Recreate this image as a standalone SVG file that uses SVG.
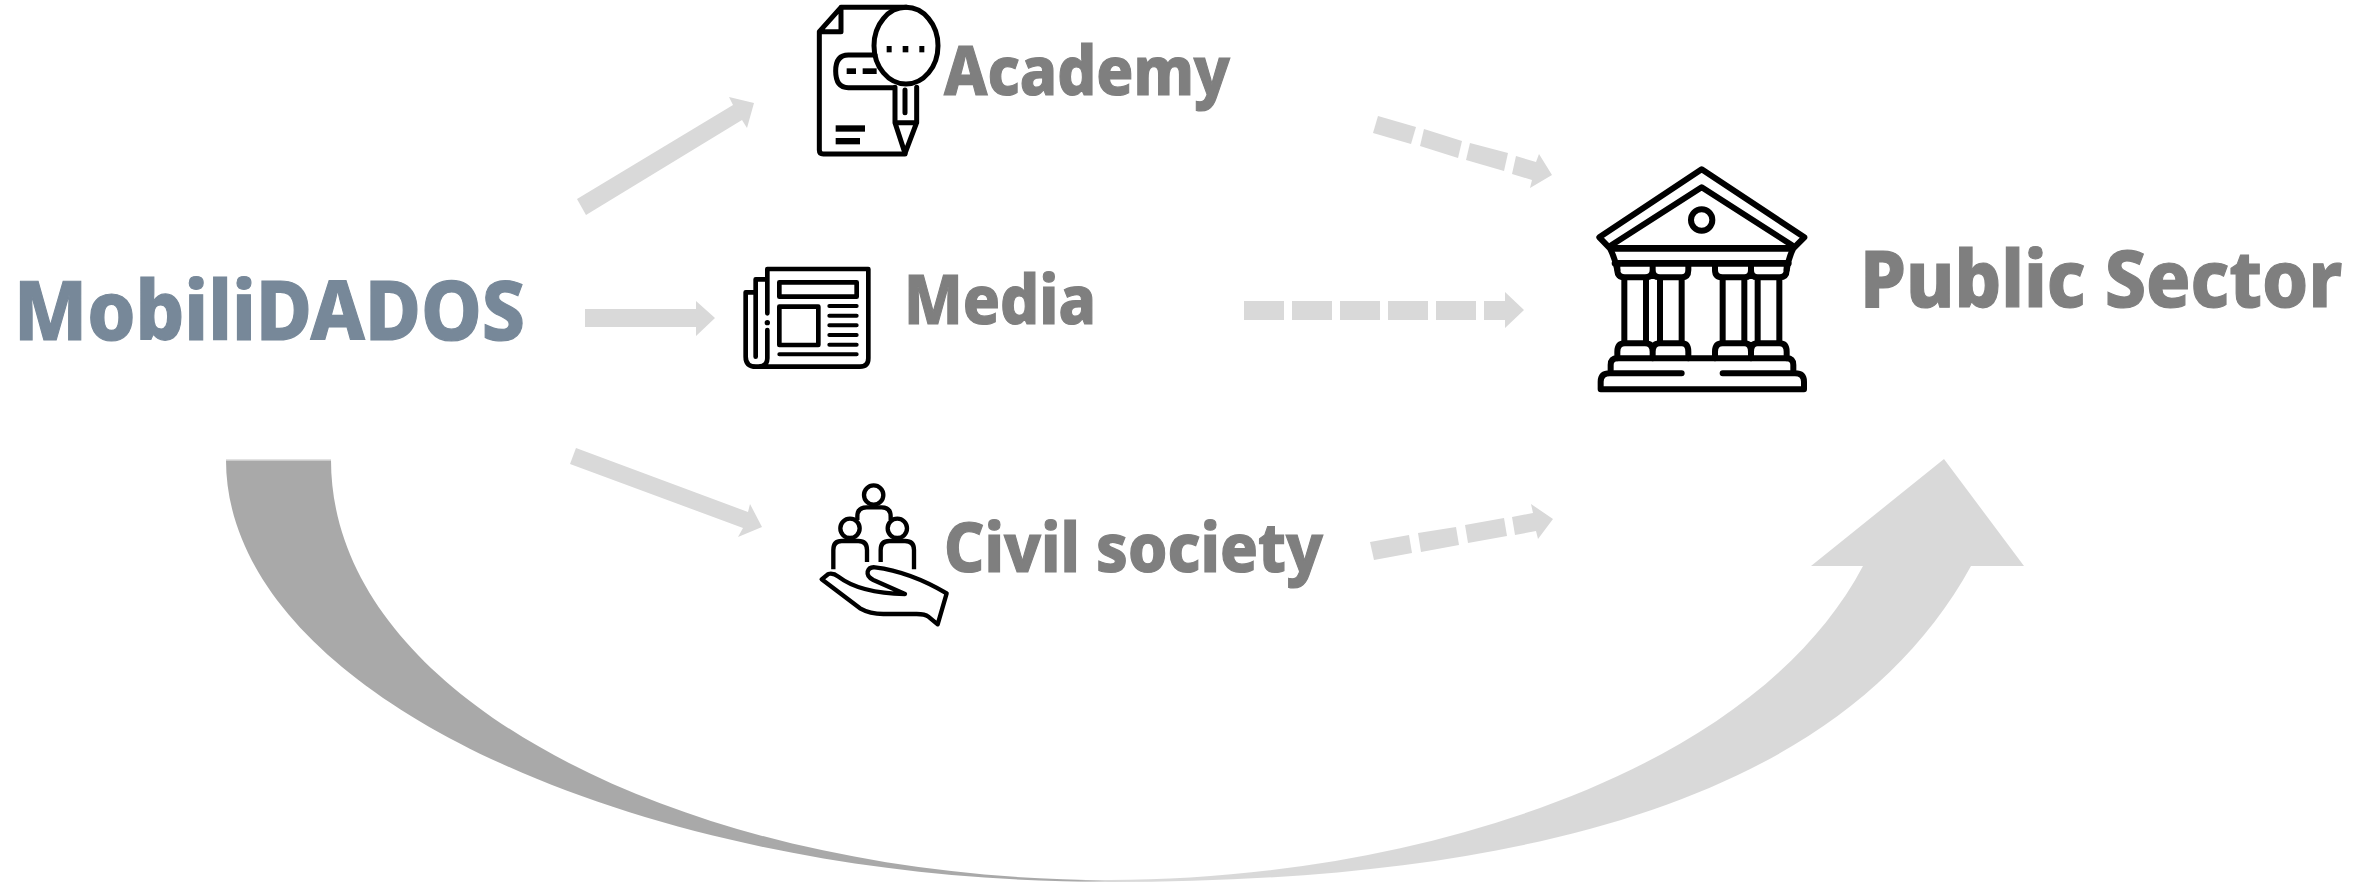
<svg xmlns="http://www.w3.org/2000/svg" width="2374" height="882" viewBox="0 0 2374 882">
<style>
.t{font-family:"Noto Sans","Open Sans","Liberation Sans",sans-serif;font-weight:800;fill:#7f7f7f;stroke:#7f7f7f;stroke-width:1.2}
.m{fill:#778899;stroke:#778899}
.a{fill:#d9d9d9}
.i{fill:none;stroke:#000;stroke-linecap:round;stroke-linejoin:round}
.k{fill:#000}
</style>
<defs>
<linearGradient id="g" gradientUnits="userSpaceOnUse" x1="226" y1="0" x2="1994" y2="0">
<stop offset="0" stop-color="#a9a9a9"/><stop offset="0.482" stop-color="#a9a9a9"/><stop offset="0.497" stop-color="#d9d9d9"/><stop offset="1" stop-color="#d9d9d9"/>
</linearGradient>
</defs>
<rect width="2374" height="882" fill="#fff"/>
<g id="connectors">
<path id="big-arrow" fill="url(#g)" d="M226 460H331C331 705 700 880 1110 880C1400 880 1750 780 1863 566H1811L1944 459L2024 566H1971C1842 801 1519 882 1110 882C640 882 226 695 226 460Z"/>
<path d="M226 460H331" stroke="#d9d9d9" stroke-width="1.5" fill="none"/>
<polygon class="a" points="577,199 733,105 729,97 754,103 747,128 742,120 586,215"/>
<polygon class="a" points="585,309 696,309 696,301 715,318 696,336 696,327 585,327"/>
<polygon class="a" points="576,448 748,512 750,504 762,527 738,537 743,528 570,464"/>
<g id="dashed-academy" class="a">
<polygon points="1378,116 1416,127 1411,144 1373,133"/>
<polygon points="1424,129 1462,141 1458,158 1420,146"/>
<polygon points="1470,143 1508,153 1504,171 1466,160"/>
<polygon points="1516,156 1536,162 1539,154 1552,175 1530,188 1532,180 1512,174"/>
</g>
<g id="dashed-media" class="a">
<rect x="1244" y="301" width="40" height="19"/>
<rect x="1292" y="301" width="40" height="19"/>
<rect x="1340" y="301" width="40" height="19"/>
<rect x="1388" y="301" width="40" height="19"/>
<rect x="1436" y="301" width="40" height="19"/>
<polygon points="1484,301 1505,301 1505,292 1524,310 1505,328 1505,320 1484,320"/>
</g>
<g id="dashed-civil" class="a">
<polygon points="1370,542 1409,535 1412,553 1374,560"/>
<polygon points="1418,533 1456,527 1459,545 1421,552"/>
<polygon points="1465,525 1504,518 1507,536 1468,543"/>
<polygon points="1512,517 1533,513 1531,504 1553,519 1538,539 1536,531 1515,535"/>
</g>
</g>
<g id="mobilidados"><text class="t m" x="14" y="340" font-size="82" textLength="511" lengthAdjust="spacingAndGlyphs">MobiliDADOS</text></g>
<g id="academy">
<g transform="translate(780 0) scale(.33333)">
<g class="i" stroke-width="15">
<path d="M380 22H183L118 95V450Q118 462 130 462H375M118 95H183V22"/>
<ellipse cx="378" cy="137" rx="96" ry="115"/>
<path d="M285 165H205Q167 165 167 213Q167 263 205 263H340"/>
<path d="M345 262V368L375 460L410 368V262M345 368H410M375 270V338"/>
</g>
<rect class="k" x="200" y="205" width="28" height="17"/><rect class="k" x="248" y="205" width="42" height="17"/>
<rect class="k" x="320" y="138" width="15" height="19"/><rect class="k" x="368" y="138" width="17" height="19"/><rect class="k" x="418" y="138" width="15" height="19"/>
<rect class="k" x="167" y="376" width="88" height="19"/><rect class="k" x="167" y="414" width="73" height="19"/>
</g>
<text class="t" x="944" y="95" font-size="67" textLength="286" lengthAdjust="spacingAndGlyphs">Academy</text>
</g>
<g id="media">
<g transform="translate(720 250) scale(.33333)">
<g class="i" stroke-width="14">
<path d="M142 190V57H445V325Q445 350 420 350H108Q77 350 77 320V127H107M142 88H107V320M142 240V325Q142 350 115 350"/>
<rect x="178" y="97" width="232" height="43"/>
<rect x="178" y="170" width="117" height="115"/>
<path stroke-width="12" d="M328 168H410M328 197H410M328 226H410M328 255H410M328 284H410M178 313H410"/>
</g>
<circle class="k" cx="142" cy="218" r="8"/>
</g>
<text class="t" x="904" y="324" font-size="67" textLength="192" lengthAdjust="spacingAndGlyphs">Media</text>
</g>
<g id="civil-society">
<g transform="translate(800 470) scale(.33333)">
<g class="i" stroke-width="13" style="stroke-linecap:butt">
<circle cx="221" cy="75" r="29"/><circle cx="150" cy="175" r="29"/><circle cx="292" cy="175" r="29"/>
<path d="M172 150V140Q172 112 200 112H245Q272 112 272 140V150"/>
<path d="M100 298V240Q100 213 125 213H175Q201 213 201 240V276"/>
<path d="M242 276V240Q242 213 268 213H315Q342 213 342 240V298"/>
<path d="M65 328L85 312Q100 308 115 320Q180 370 315 372L220 330Q200 320 203 305Q207 290 225 292Q330 305 440 370L413 463L385 440Q375 432 350 432H250Q210 432 180 415Z"/>
</g>
</g>
<text class="t" x="944" y="572" font-size="67" textLength="379" lengthAdjust="spacingAndGlyphs">Civil society</text>
</g>
<g id="public-sector">
<g transform="translate(1570 150) scale(.33333)">
<g class="i" stroke-width="18">
<path d="M120 295L88 262L395 58L703 262L670 295Q655 325 650 360M120 295Q135 325 142 360"/>
<path d="M125 285L395 112L665 285"/>
<path stroke-width="20" d="M125 295H665M135 340H655"/>
<circle cx="395" cy="210" r="32"/>
<path d="M142 345V360Q142 382 165 382H225Q248 382 248 360V345M248 360Q248 382 270 382H335Q355 382 355 360V345M435 345V360Q435 382 458 382H523Q543 382 543 360V345M543 360Q543 382 563 382H628Q650 382 650 360V345"/>
<path d="M163 385V575M228 385V575M270 385V575M335 385V575M458 385V575M523 385V575M563 385V575M628 385V575"/>
<path d="M142 625V605Q142 580 165 580H225Q248 580 248 605V625M248 605Q248 580 270 580H335Q355 580 355 605V625M435 625V605Q435 580 458 580H523Q543 580 543 605V625M543 605Q543 580 563 580H628Q650 580 650 605V625"/>
<path d="M122 660V645Q122 625 142 625H650Q670 625 670 645V660"/>
<path d="M335 670H120Q92 670 92 695V718H702V695Q702 670 675 670H458"/>
</g>
</g>
<text class="t" x="1860" y="307" font-size="78" textLength="482" lengthAdjust="spacingAndGlyphs">Public Sector</text>
</g>
</svg>
